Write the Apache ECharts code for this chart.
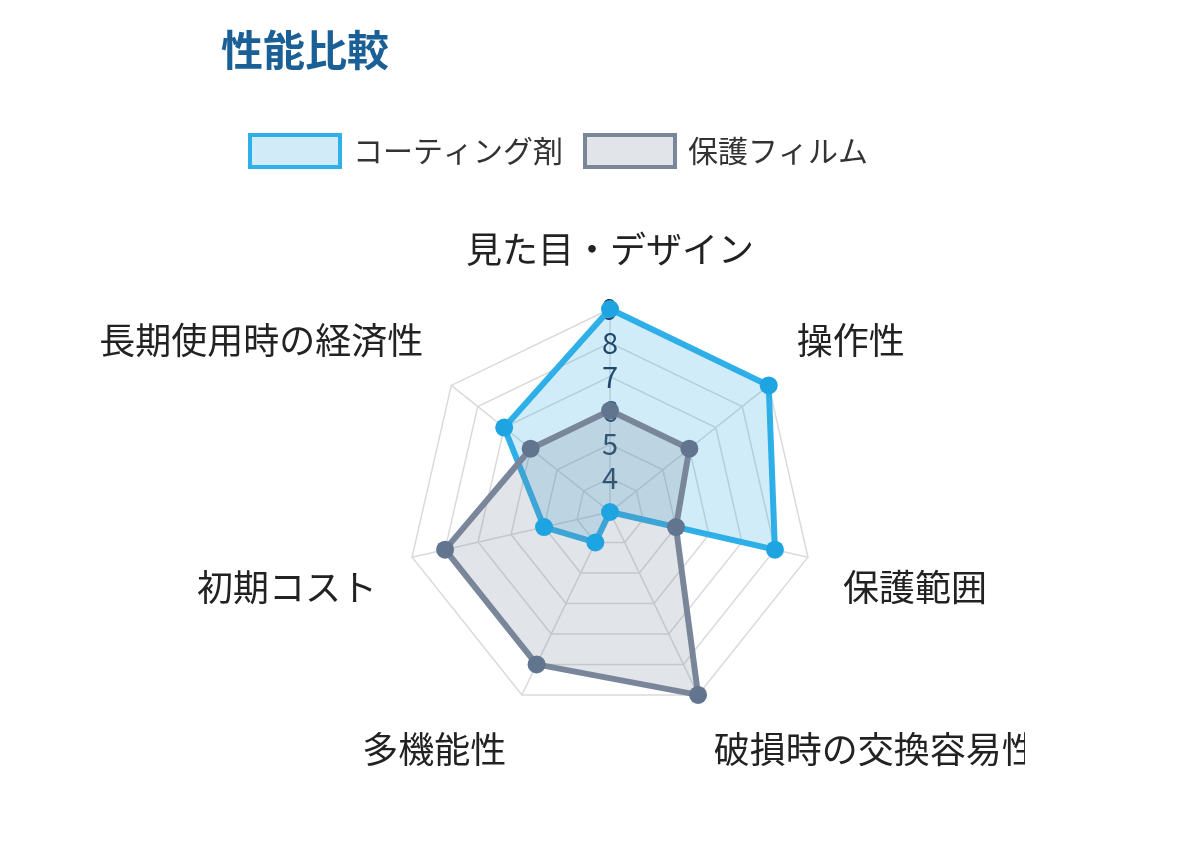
<!DOCTYPE html>
<html>
<head>
<meta charset="utf-8">
<script src="https://cdn.jsdelivr.net/npm/echarts@6/dist/echarts.min.js"></script>
<style>
  html, body { margin: 0; padding: 0; background: #fff; }
  #chart { width: 1025px; height: 857px; }
</style>
</head>
<body>
<div id="chart"></div>
<script>
// 項目（時計回り）
var indicators = ['見た目・デザイン', '操作性', '保護範囲', '破損時の交換容易性', '多機能性', '初期コスト', '長期使用時の経済性'];
var seriesNames = ['コーティング剤', '保護フィルム'];
// 値
var coatingValues = [9, 9, 8, 3, 4, 5, 7];
var filmValues = [6, 6, 5, 9, 8, 8, 6];
var scaleMin = 3;
var scaleMax = 9;

var FONT = '"Noto Sans CJK JP", "Noto Sans", sans-serif';

// ECharts のレーダーは反時計回りなので、先頭以外を逆順に並べる
var order = [0];
for (var k = indicators.length - 1; k > 0; k--) order.push(k);
function reorder(arr) {
  return order.map(function (i) { return arr[i]; });
}

// ラベルの上下位置の調整用スタイル
var nameStyles = ['top', 'up', 'down', 'down', 'down', 'down', 'up'];

var myChart = echarts.init(document.getElementById('chart'));

var option = {
  backgroundColor: '#fff',
  title: {
    text: '性能比較',
    left: 216,
    top: 24,
    textStyle: { fontSize: 42, fontWeight: 'bold', color: '#1b5f97', fontFamily: FONT }
  },
  legend: {
    left: 243,
    top: 128,
    itemWidth: 90,
    itemHeight: 32,
    itemGap: 20,
    icon: 'rect',
    textStyle: { fontSize: 30, color: '#333', fontFamily: FONT, padding: [0, 0, 0, 8] },
    data: [
      { name: seriesNames[0], itemStyle: { color: '#d1ebf8', borderColor: '#2fb0e8', borderWidth: 4 } },
      { name: seriesNames[1], itemStyle: { color: '#e1e4e8', borderColor: '#7a879b', borderWidth: 4 } }
    ]
  },
  radar: {
    center: [610, 512],
    radius: 203,
    startAngle: 90,
    splitNumber: scaleMax - scaleMin,
    shape: 'polygon',
    nameGap: 36,
    axisName: {
      fontSize: 36,
      color: '#222',
      fontFamily: FONT,
      formatter: function (name) {
        var i = indicators.indexOf(name);
        return '{' + nameStyles[i] + '|' + name + '}';
      },
      rich: {
        top: { fontSize: 36, color: '#222', fontFamily: FONT, padding: [0, 0, 6, 0] },
        up: { fontSize: 36, color: '#222', fontFamily: FONT, padding: [0, 0, 46, 0] },
        down: { fontSize: 36, color: '#222', fontFamily: FONT, padding: [44, 0, 0, 0] }
      }
    },
    splitLine: { lineStyle: { color: '#dadada', width: 1.5 } },
    splitArea: { show: false },
    axisLine: { lineStyle: { color: '#dadada', width: 1.5 } },
    axisLabel: { show: false },
    indicator: reorder(indicators).map(function (name, i) {
      var ind = { name: name, min: scaleMin, max: scaleMax };
      if (i === 0) {
        // 目盛りは上の軸だけ
        ind.axisLabel = {
          show: true,
          showMinLabel: false,
          margin: 0,
          align: 'center',
          verticalAlign: 'middle',
          fontSize: 29,
          color: '#1c2d4a',
          fontFamily: FONT
        };
      }
      return ind;
    })
  },
  series: [{
    type: 'radar',
    symbol: 'circle',
    symbolSize: 18,
    data: [
      {
        name: seriesNames[0],
        value: reorder(coatingValues),
        itemStyle: { color: '#1fa4e2' },
        lineStyle: { color: '#2fb0e8', width: 6 },
        areaStyle: { color: 'rgba(47,168,226,0.22)', opacity: 1 }
      },
      {
        name: seriesNames[1],
        value: reorder(filmValues),
        itemStyle: { color: '#62758f' },
        lineStyle: { color: '#7a879b', width: 6 },
        areaStyle: { color: 'rgba(120,130,150,0.22)', opacity: 1 }
      }
    ]
  }]
};

myChart.setOption(option);
</script>
</body>
</html>
